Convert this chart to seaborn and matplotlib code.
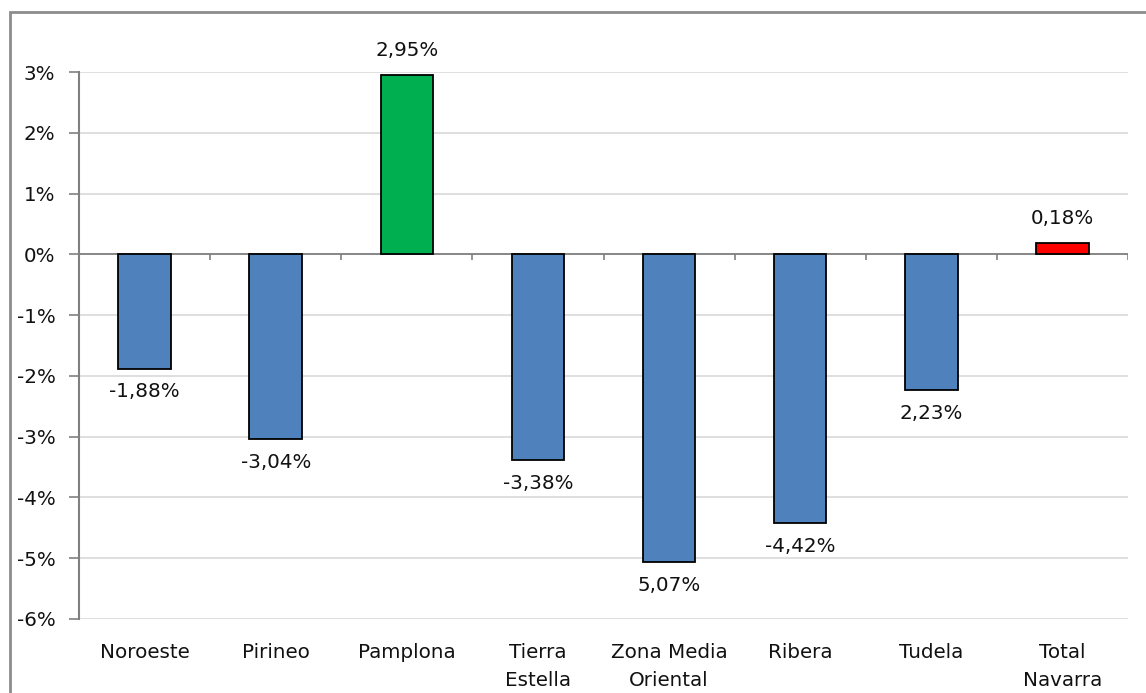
import matplotlib
matplotlib.use("Agg")
import matplotlib.pyplot as plt
import seaborn as sns
import pandas as pd
from matplotlib.patches import Rectangle

categories = ["Noroeste", "Pirineo", "Pamplona", "Tierra\nEstella", "Zona Media\nOriental",
              "Ribera", "Tudela", "Total\nNavarra"]
values = [-1.88, -3.04, 2.95, -3.38, -5.07, -4.42, -2.23, 0.18]
value_labels = ["-1,88%", "-3,04%", "2,95%", "-3,38%", "5,07%", "-4,42%", "2,23%", "0,18%"]
bar_colors = ["#4F81BD", "#4F81BD", "#00B050", "#4F81BD", "#4F81BD", "#4F81BD", "#4F81BD", "#FF0000"]
y_ticks = [-6, -5, -4, -3, -2, -1, 0, 1, 2, 3]
y_tick_labels = ["-6%", "-5%", "-4%", "-3%", "-2%", "-1%", "0%", "1%", "2%", "3%"]

sns.set_style("white")
plt.rcParams['font.family'] = ['DejaVu Sans']

df = pd.DataFrame({"cat": categories, "val": values})

fig = plt.figure(figsize=(11.46, 6.93), dpi=100)
ax = fig.add_axes([79/1146, (693-619)/693, 1049/1146, (619-72)/693])

sns.barplot(data=df, x="cat", y="val", hue="cat", palette=bar_colors, width=0.4, saturation=1,
            edgecolor="black", linewidth=1.3, legend=False, ax=ax, zorder=3)

FS = 14.3
TXT = "#111111"
ax.set_ylim(-6, 3)
ax.set_xlim(-0.5, len(categories) - 0.5)
ax.set_yticks(y_ticks)
ax.set_yticklabels(y_tick_labels, fontsize=FS, color=TXT)
ax.set_xticks(range(len(categories)))
ax.set_xticklabels(categories, fontsize=FS, color=TXT, linespacing=1.65, va="top")
ax.tick_params(axis="x", length=0, pad=17)
ax.tick_params(axis="y", length=7, width=1.2, color="#808080", direction="out", pad=10, left=True)
ax.set_xlabel("")
ax.set_ylabel("")

ax.yaxis.grid(True, color="#D9D9D9", linewidth=1.2, zorder=0)
ax.set_axisbelow(True)
for s in ["top", "right", "bottom"]:
    ax.spines[s].set_visible(False)
ax.spines["left"].set_color("#808080")
ax.spines["left"].set_linewidth(1.5)

# zero axis line with category boundary ticks
ax.axhline(0, color="#808080", linewidth=1.3, zorder=2)
bounds = [i + 0.5 for i in range(-1, len(categories))]
ax.vlines(bounds, 0, -0.1, color="#808080", linewidth=1.2, zorder=2)

for i, (v, lab) in enumerate(zip(values, value_labels)):
    if v >= 0:
        ax.annotate(lab, (i, v), xytext=(0, 11), textcoords="offset points",
                    ha="center", va="bottom", fontsize=FS, color=TXT)
    else:
        ax.annotate(lab, (i, v), xytext=(0, -10), textcoords="offset points",
                    ha="center", va="top", fontsize=FS, color=TXT)

# outer chart border
fig.patches.append(Rectangle((10/1146, -0.05), 1.2, 1 - 12/693 + 0.05, transform=fig.transFigure,
                             fill=False, edgecolor="#8C8C8C", linewidth=2, zorder=10))

fig.savefig("out.png", dpi=100)
